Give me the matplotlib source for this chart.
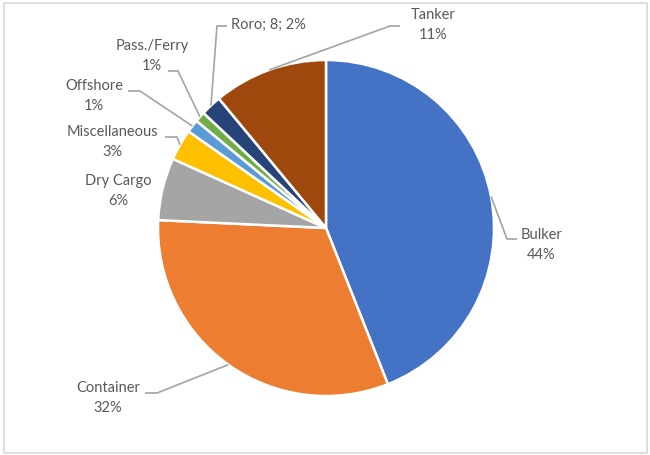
import numpy as np
import matplotlib.pyplot as plt
from matplotlib.patches import Rectangle

# vessel counts by ship type
types = ['Bulker', 'Container', 'Dry Cargo', 'Miscellaneous', 'Offshore',
         'Pass./Ferry', 'Roro', 'Tanker']
counts = [176, 127, 24, 12, 5, 4, 8, 44]
colors = ['#4472C4', '#ED7D31', '#A5A5A5', '#FFC000', '#5B9BD5',
          '#70AD47', '#264478', '#9E480E']

W, H = 650, 455
fig = plt.figure(figsize=(W / 100, H / 100), dpi=100)
ax = fig.add_axes([0, 0, 1, 1])

cx, cy, r = 326, H - 228, 168
wedges, _ = ax.pie(counts, colors=colors, startangle=90, counterclock=False,
                   center=(cx, cy), radius=r, frame=True,
                   wedgeprops=dict(edgecolor='white', linewidth=1.8))
ax.set_xlim(0, W)
ax.set_ylim(0, H)
ax.axis('off')

total = sum(counts)

def label_text(name, n):
    pct = round(100 * n / total)
    if name == 'Roro':
        return f'{name}; {n}; {pct}%'
    return f'{name}\n{pct}%'

# label centre (x, y) and leader elbow/end points, in pixel coords from the top
label_pos = {
    'Bulker': ((541, 245), [(507, 239), (517, 239)]),
    'Container': ((108, 398), [(157, 393), (145, 393)]),
    'Dry Cargo': ((118, 191), None),
    'Miscellaneous': ((112, 142), [(177, 137), (165, 137)]),
    'Offshore': ((94, 96), [(140, 91), (128, 91)]),
    'Pass./Ferry': ((152, 56), [(178, 71), (168, 71)]),
    'Roro': ((268, 25), [(217, 26), (227, 26)]),
    'Tanker': ((433, 25), [(390, 26), (400, 26)]),
}

for w, name, n in zip(wedges, types, counts):
    mid = np.deg2rad((w.theta1 + w.theta2) / 2)
    sx, sy = cx + r * np.cos(mid), cy + r * np.sin(mid)
    (tx, ty), leader = label_pos[name]
    if leader:
        xs = [sx] + [p[0] for p in leader]
        ys = [sy] + [H - p[1] for p in leader]
        ax.plot(xs, ys, color='#A6A6A6', lw=1.25, solid_capstyle='butt')
    ax.text(tx, H - ty, label_text(name, n), ha='center', va='center',
            fontsize=10.5, family='Lato', color='#595959', linespacing=1.55)

# chart border
ax.add_patch(Rectangle((3.5, 2.5), W - 7, H - 5, fill=False,
                       edgecolor='#D9D9D9', lw=1.2))

fig.savefig('out.png', dpi=100)
